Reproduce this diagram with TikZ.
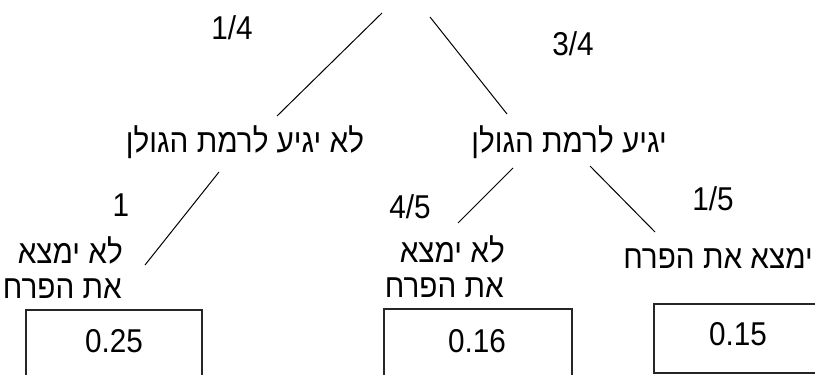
\documentclass[tikz,border=0pt]{standalone}
\usepackage{fontspec}
\setmainfont[FakeStretch=0.9]{Liberation Sans}
\newfontfamily\hebfont[Script=Hebrew,FakeStretch=0.9]{Liberation Sans}
\TeXXeTstate=1
\begin{document}
\begin{tikzpicture}[x=1pt,y=-1pt,
  lbl/.style={inner sep=0pt,font=\fontsize{33}{38}\selectfont},
  heb/.style={lbl,font=\fontsize{33}{38}\selectfont\hebfont},
  branch/.style={draw=black,line width=1pt},
  resbox/.style={draw=black!85,line width=1.2pt}]
\useasboundingbox (0,0) rectangle (815,375);
\clip (0,0) rectangle (815,375);
% branch end points
\coordinate (r1) at (382,13);
\coordinate (r2) at (430,17);
\coordinate (a1) at (277,116);
\coordinate (b1) at (507,114);
\coordinate (a2) at (219,172);
\coordinate (a3) at (145,265);
\coordinate (b2) at (513,168);
\coordinate (b3) at (458,223);
\coordinate (b4) at (590,166);
\coordinate (b5) at (655,232);
\draw[branch] (r1) -- (a1);
\draw[branch] (r2) -- (b1);
\draw[branch] (a2) -- (a3);
\draw[branch] (b2) -- (b3);
\draw[branch] (b4) -- (b5);
% probabilities
\node[lbl,anchor=base] (p14) at (232,39) {1/4};
\node[lbl,anchor=base] (p34) at (573,55) {3/4};
\node[lbl,anchor=base] (p1) at (121,216) {1};
\node[lbl,anchor=base] (p45) at (410,218) {4/5};
\node[lbl,anchor=base] (p15) at (713,210) {1/5};
% level 1
\node[heb,anchor=base] (notg) at (245,152) {\beginR לא יגיע לרמת הגולן\endR};
\node[heb,anchor=base] (gol) at (569,152) {\beginR יגיע לרמת הגולן\endR};
% leaves
\node[heb,anchor=base east] (lA1) at (123,263) {\beginR לא ימצא\endR};
\node[heb,anchor=base east] (lA2) at (122,298) {\beginR את הפרח\endR};
\node[heb,anchor=base east] (lB1) at (505,262) {\beginR לא ימצא\endR};
\node[heb,anchor=base east] (lB2) at (504,297) {\beginR את הפרח\endR};
\node[heb,anchor=base east] (lC1) at (813,268) {\beginR ימצא את הפרח\endR};
% result boxes
\draw[resbox] (26,310) rectangle (202,380);
\draw[resbox] (384,309) rectangle (572,380);
\draw[resbox] (654,304) rectangle (822,373);
\node[lbl,anchor=base] (v1) at (114,352) {0.25};
\node[lbl,anchor=base] (v2) at (477,352) {0.16};
\node[lbl,anchor=base] (v3) at (738,345) {0.15};
\end{tikzpicture}
\end{document}
